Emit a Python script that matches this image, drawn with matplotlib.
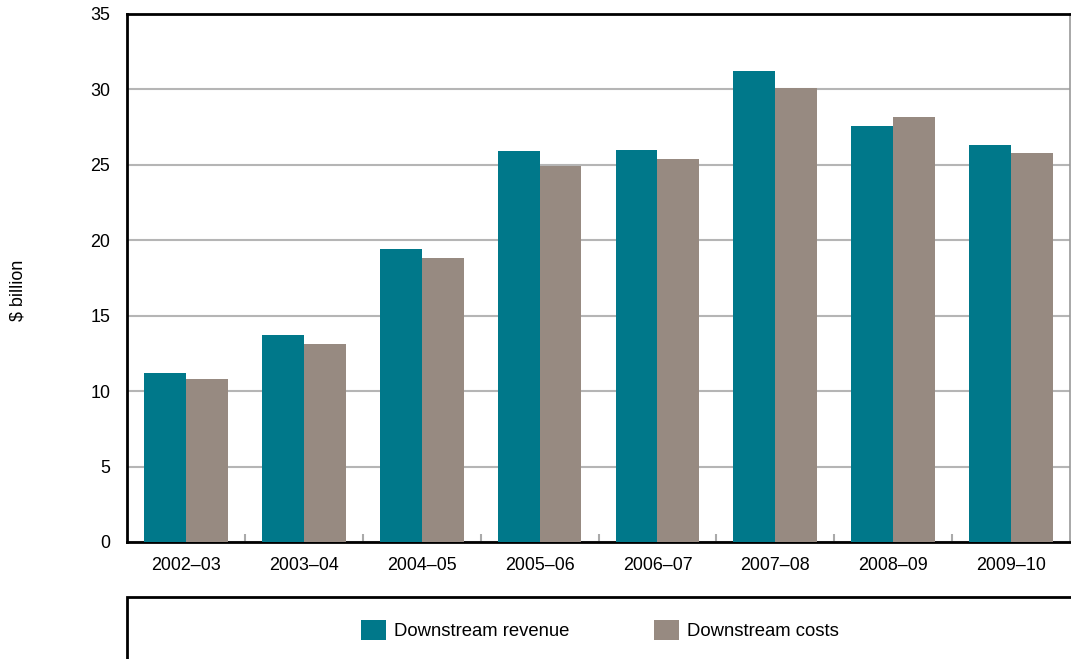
import matplotlib.pyplot as plt
import matplotlib.patches as mpatches
import numpy as np

plt.rcParams['font.family'] = ['Liberation Sans', 'DejaVu Sans']

years = ['2002–03', '2003–04', '2004–05', '2005–06', '2006–07', '2007–08', '2008–09', '2009–10']
revenue = [11.2, 13.7, 19.4, 25.9, 26.0, 31.2, 27.6, 26.3]
costs = [10.8, 13.1, 18.8, 24.9, 25.4, 30.1, 28.2, 25.8]

teal = '#00788a'
taupe = '#978a81'

fig = plt.figure(figsize=(10.71, 6.59), dpi=100)
W, H = 1071, 659
ax = fig.add_axes([127 / W, 1 - 542 / H, (1070 - 127) / W, (542 - 14) / H])

x = np.arange(len(years))
bw = 0.355
ax.bar(x - bw / 2, revenue, bw, color=teal, label='Downstream revenue', zorder=3)
ax.bar(x + bw / 2, costs, bw, color=taupe, label='Downstream costs', zorder=3)

ax.set_xlim(-0.5, len(years) - 0.5)
ax.set_ylim(0, 35)
ax.set_yticks(range(0, 36, 5))
ax.set_xticks(x)
ax.set_xticklabels(years, fontsize=12.9)
ax.tick_params(axis='x', length=0, pad=11)
ax.tick_params(axis='y', length=0, pad=12, labelsize=12.9)
ax.set_xticks(x[:-1] + 0.5, minor=True)
ax.tick_params(axis='x', which='minor', direction='in', length=6, color='#aaaaaa', width=1.5)

ax.yaxis.grid(True, color='#b5b5b5', linewidth=1.5, zorder=0)
ax.set_axisbelow(True)

for s in ['left', 'bottom', 'top']:
    ax.spines[s].set_linewidth(2)
    ax.spines[s].set_color('black')
ax.spines['right'].set_color('#999999')
ax.spines['right'].set_linewidth(1.2)

fig.text(18 / W, 1 - 290 / H, '$ billion', rotation=90, fontsize=12.9, va='center', ha='center')

# legend box below the plot
box = mpatches.Rectangle((127 / W, -0.05), 1.05 - 127 / W, 1 - 597 / H + 0.05,
                         transform=fig.transFigure, fill=False, edgecolor='black',
                         linewidth=2, clip_on=False)
fig.add_artist(box)
fig.legend(loc='center', bbox_to_anchor=(600 / W, 1 - 630 / H), ncol=2, frameon=False,
           fontsize=13.3, handlelength=1.35, handleheight=1.35, columnspacing=4.6,
           handletextpad=0.45)

fig.savefig('out.png', dpi=100)
